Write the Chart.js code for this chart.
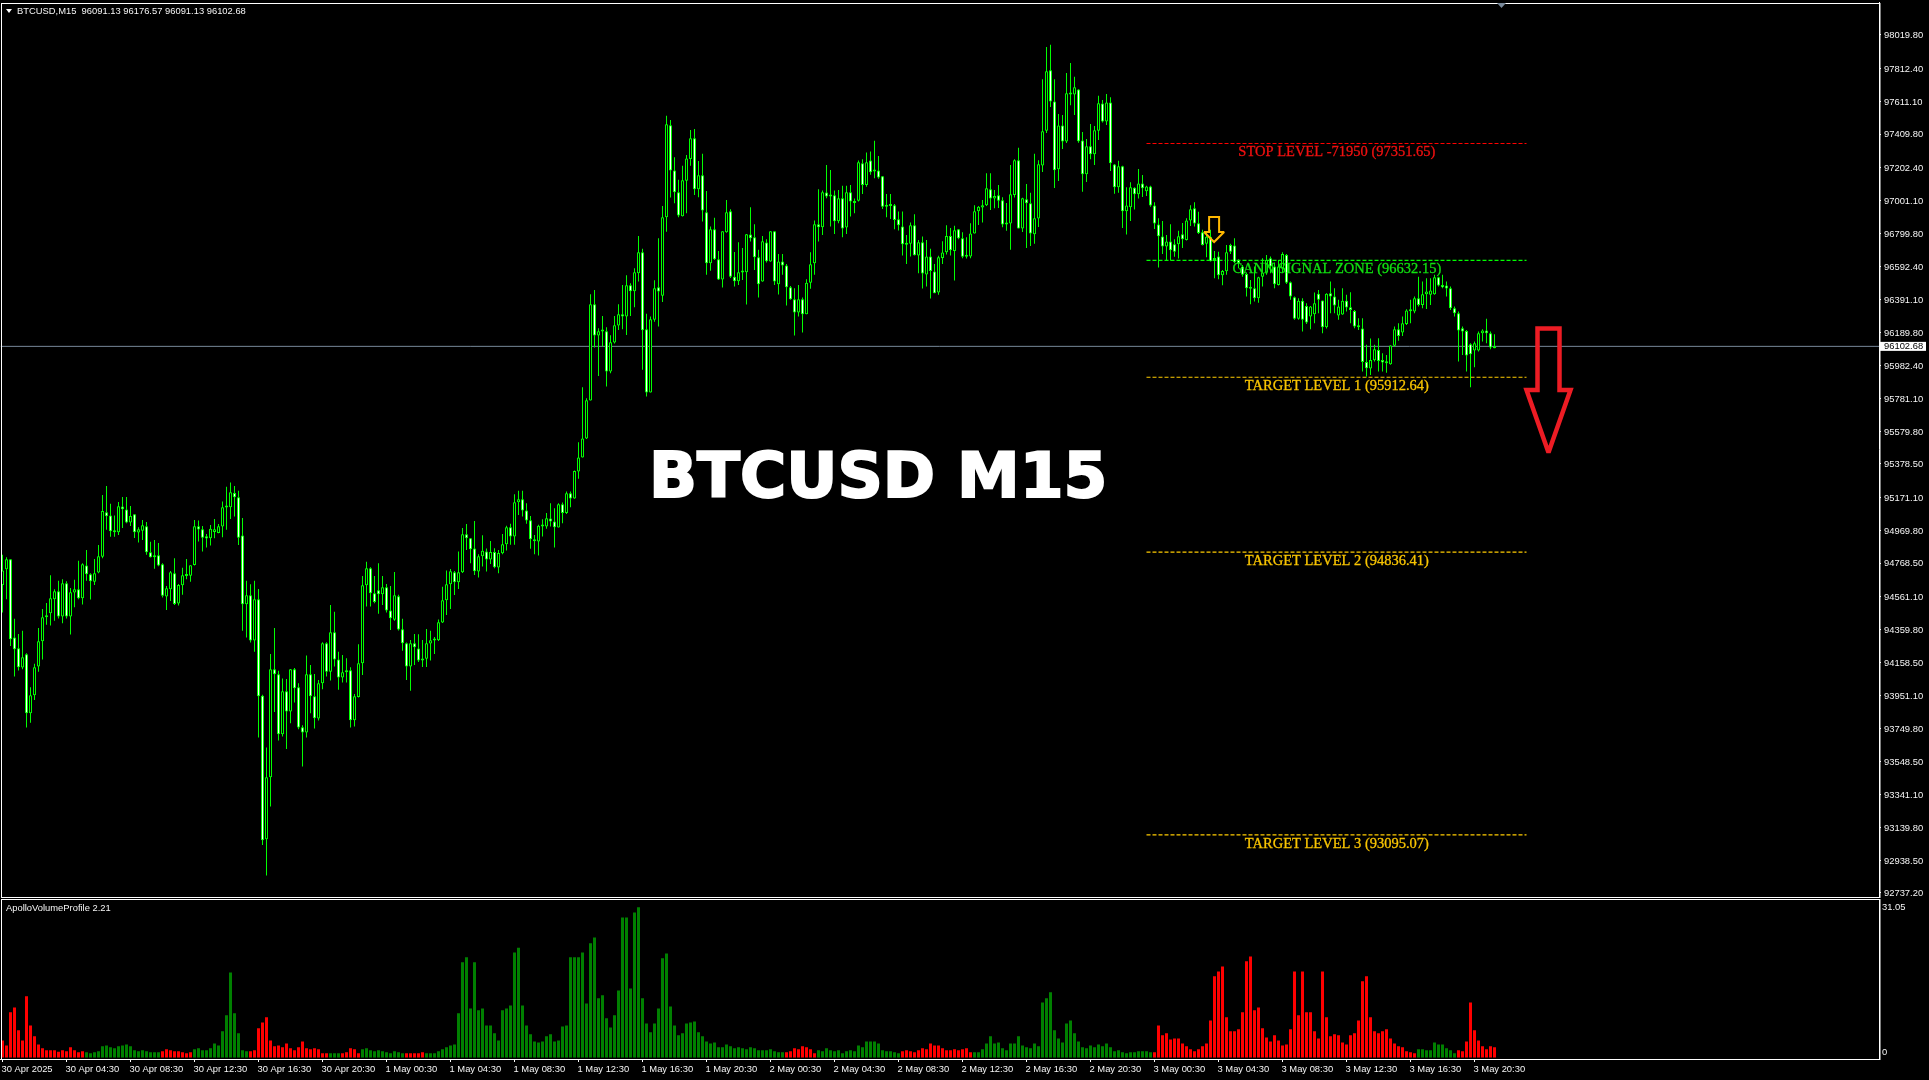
<!DOCTYPE html>
<html>
<head>
<meta charset="utf-8">
<title>BTCUSD M15</title>
<style>
  html, body { margin: 0; padding: 0; background: #000; overflow: hidden; }
  canvas { position: absolute; left: 0; top: 0; }
</style>
<script src="https://cdn.jsdelivr.net/npm/chart.js@4/dist/chart.umd.js"></script>
</head>
<body>
<canvas id="priceChart" width="1929" height="1080"></canvas>
<canvas id="volumeChart" width="1929" height="1080"></canvas>
<script>
// 15 minute candles
const opens = [
94634,94730,94792,94310,94244,94125,94207,93844,93955,94131,
94287,94435,94460,94546,94595,94439,94644,94439,94587,94607,
94552,94753,94700,94654,94710,94808,95081,95061,94966,94958,
95116,95098,95018,95069,94956,94968,94995,94835,94804,94817,
94761,94562,94607,94706,94519,94632,94689,94691,94757,94995,
94977,94934,94921,94960,94954,94993,95110,95112,95200,95174,
94938,94515,94570,94291,94546,93951,93068,93450,94115,94084,
93715,93979,93854,94115,94004,93758,93725,94084,93949,93811,
94029,94275,94100,94343,94174,94064,94096,94109,93801,93944,
94152,94632,94737,94583,94601,94576,94620,94476,94419,94564,
94361,94275,94131,94275,94242,94176,94180,94273,94291,94293,
94402,94540,94638,94712,94650,94712,94946,94921,94858,94716,
94810,94839,94790,94837,94741,94829,94885,94989,94932,95143,
95162,95092,95032,94915,94901,94993,94993,95043,95024,94987,
95131,95076,95199,95166,95332,95418,95535,95769,96362,96169,
96194,96196,95948,96126,96231,96301,96286,96479,96442,96553,
96682,96208,95818,96266,96467,96415,96898,97464,97185,97052,
96904,97123,97257,97384,97070,97156,96928,96615,96824,96639,
96514,96805,96935,96532,96504,96557,96559,96791,96775,96651,
96502,96742,96625,96812,96485,96625,96600,96467,96393,96311,
96393,96301,96495,96615,96855,96836,97050,97033,97033,96873,
97015,96834,97052,96986,97000,97230,97097,97247,97185,97185,
97150,96972,96967,96972,96885,96840,96738,96734,96848,96662,
96744,96545,96656,96563,96434,96647,96682,96783,96690,96824,
96768,96654,96656,96797,96935,96957,96972,97070,97013,97033,
97002,96863,96859,97035,97249,96828,97009,96984,96793,96890,
97216,97431,97803,97610,97193,97462,97364,97653,97653,97684,
97370,97162,97335,97286,97431,97598,97487,97604,97222,97082,
97212,96935,96959,97080,97039,97105,97058,97087,96970,96853,
96779,96717,96748,96732,96732,96793,96758,96877,96953,96861,
96805,96734,96777,96639,96656,96541,96565,96727,96723,96635,
96594,96549,96461,96461,96399,96532,96557,96645,96594,96481,
96584,96666,96498,96405,96272,96383,96352,96286,96301,96426,
96385,96221,96430,96409,96292,96299,96383,96344,96321,96225,
96212,96007,95966,96017,96081,96019,96009,95993,96106,96208,
96188,96241,96319,96317,96399,96358,96424,96420,96424,96528,
96481,96477,96461,96337,96307,96214,96198,96116,96077,96077,
96184,96200,96184,96091.13];

const closes = [
94722,94792,94299,94238,94127,94189,93844,93955,94127,94287,
94435,94447,94552,94595,94439,94644,94439,94589,94607,94552,
94761,94700,94657,94706,94810,95089,95057,94964,94958,95118,
95100,95018,95059,94958,94977,95001,94835,94804,94817,94753,
94568,94613,94712,94517,94634,94693,94695,94755,94995,94975,
94925,94919,94979,94977,94995,95112,95114,95204,95174,94925,
94515,94570,94291,94546,93949,93062,93450,94115,94084,93715,
93979,93854,94115,93998,93756,93725,94084,93949,93813,94029,
94275,94100,94343,94174,94064,94096,94109,93801,93949,94152,
94632,94737,94583,94529,94576,94620,94476,94429,94570,94359,
94275,94131,94275,94250,94168,94168,94275,94293,94295,94404,
94540,94638,94718,94650,94712,94946,94921,94853,94718,94810,
94845,94790,94837,94743,94831,94885,94989,94932,95143,95162,
95092,95030,94915,94903,94998,95002,95045,95024,94989,95131,
95076,95199,95166,95336,95418,95535,95771,96362,96169,96196,
96196,95948,96128,96233,96301,96286,96479,96442,96559,96682,
96202,95818,96270,96461,96440,96898,97470,97185,97052,96908,
97125,97259,97384,97070,97156,96939,96615,96824,96639,96514,
96812,96928,96532,96504,96559,96559,96793,96768,96651,96485,
96750,96627,96812,96502,96625,96600,96467,96393,96311,96393,
96301,96495,96608,96855,96836,97052,97025,97025,96873,97015,
96828,97052,96994,96998,97236,97097,97236,97175,97179,97142,
96963,96963,96974,96881,96848,96731,96729,96848,96664,96744,
96551,96656,96567,96430,96651,96680,96783,96695,96818,96768,
96654,96658,96797,96935,96963,96972,97076,97013,97029,97000,
96853,96853,97039,97249,96828,97015,96984,96797,96892,97224,
97427,97797,97610,97187,97462,97364,97661,97661,97698,97366,
97162,97335,97286,97433,97600,97487,97604,97230,97082,97212,
96935,96970,97082,97039,97105,97076,97087,96970,96859,96781,
96717,96748,96695,96686,96781,96762,96877,96947,96859,96801,
96727,96777,96627,96635,96541,96567,96682,96686,96621,96615,
96543,96461,96457,96399,96528,96557,96635,96594,96485,96594,
96672,96495,96409,96272,96383,96266,96249,96348,96368,96389,
96221,96426,96409,96354,96348,96383,96342,96327,96225,96221,
96007,95968,96019,96085,96013,96003,95999,96108,96208,96167,
96245,96323,96323,96399,96358,96424,96440,96446,96528,96477,
96467,96459,96337,96307,96200,96194,96046,96054,96122,96184,
96200,96184,96095,96102.68];

const highs = [
94819,94804,94792,94425,94332,94351,94213,94004,94148,94369,
94486,94523,94693,94607,94659,94669,94657,94615,94665,94782,
94767,94849,94706,94794,94880,95188,95243,95133,95061,95145,
95176,95176,95120,95069,94989,95034,95022,94899,94911,94892,
94767,94628,94720,94798,94640,94739,94794,94755,95034,95030,
94997,94948,95003,95040,95009,95147,95239,95264,95243,95213,
95046,94659,94638,94659,94609,93957,93633,94209,94369,94105,
94057,94055,94117,94123,94029,93770,94199,94141,94086,94049,
94281,94281,94511,94468,94222,94203,94182,94127,93963,94269,
94689,94776,94743,94689,94767,94689,94640,94628,94714,94574,
94425,94279,94295,94332,94330,94295,94363,94351,94314,94421,
94622,94722,94732,94720,94839,94985,95009,94923,95028,94823,
94940,94858,94905,94860,94849,94948,94998,95010,95192,95213,
95213,95137,95059,94942,95004,95039,95076,95137,95106,95137,
95141,95209,95209,95338,95513,95851,95783,96424,96450,96214,
96290,96221,96171,96290,96362,96481,96541,96491,96584,96783,
96703,96303,96286,96510,96768,96967,97522,97497,97267,97128,
97214,97281,97435,97441,97244,97288,97060,96840,96894,96690,
96812,97004,96947,96684,96744,96709,96795,96959,96855,96697,
96783,96762,96812,96812,96672,96672,96610,96475,96461,96481,
96403,96516,96682,96877,97070,97062,97220,97189,97062,97066,
97091,97091,97097,97013,97247,97255,97296,97302,97368,97275,
97152,97041,97041,96980,96933,96933,96789,96865,96916,96758,
96779,96758,96703,96610,96660,96750,96848,96832,96846,96824,
96805,96775,96861,96972,96967,97004,97169,97169,97066,97097,
97021,96986,97220,97255,97325,97017,97103,97048,97288,97249,
97747,97946,97959,97747,97534,97528,97786,97848,97762,97686,
97423,97380,97472,97460,97645,97620,97657,97636,97226,97245,
97214,97082,97113,97082,97195,97158,97091,97091,96990,96892,
96875,96789,96855,96762,96814,96863,96892,96972,96990,96931,
96820,96799,96820,96690,96686,96573,96727,96734,96768,96639,
96604,96557,96512,96594,96532,96645,96666,96656,96619,96635,
96682,96672,96502,96409,96399,96399,96368,96352,96434,96450,
96385,96430,96502,96461,96389,96461,96420,96436,96327,96276,
96276,96112,96151,96112,96153,96060,96050,96110,96225,96245,
96286,96331,96389,96409,96532,96502,96522,96522,96543,96532,
96543,96502,96471,96348,96317,96225,96204,96122,96132,96194,
96208,96272,96194,96176.57];

const lows = [
94464,94546,94258,94070,94107,94115,93756,93786,93926,94100,
94174,94388,94384,94414,94427,94398,94427,94328,94496,94546,
94513,94659,94544,94634,94706,94798,94973,94931,94931,94942,
94985,95014,94997,94923,94895,94911,94819,94802,94734,94749,
94556,94480,94535,94511,94507,94574,94669,94654,94753,94901,
94839,94864,94876,94921,94952,94927,94973,95040,95055,94880,
94351,94310,94279,94222,93694,93033,92845,93269,93852,93676,
93700,93624,93782,93910,93745,93516,93694,93844,93750,93799,
93992,94070,94045,94131,93988,94033,94033,93756,93762,93940,
94080,94501,94501,94521,94457,94511,94464,94357,94414,94353,
94228,94049,93983,94141,94160,94129,94129,94168,94209,94289,
94400,94449,94486,94572,94609,94708,94849,94767,94695,94679,
94747,94716,94763,94737,94706,94823,94846,94881,94881,95065,
95055,95010,94856,94823,94815,94932,94979,94993,94864,94987,
95014,95071,95112,95164,95287,95418,95533,95769,96095,95921,
96102,95855,95937,96120,96204,96208,96173,96290,96344,96502,
95958,95794,95818,96255,96225,96376,96809,97019,96984,96898,
96902,96922,97214,97035,97021,96871,96543,96569,96635,96512,
96465,96803,96524,96471,96481,96512,96360,96748,96573,96403,
96500,96619,96623,96481,96422,96543,96354,96389,96169,96286,
96188,96301,96457,96543,96748,96789,97015,96840,96795,96861,
96775,96795,96902,96922,96994,97041,97086,97160,97138,97134,
96949,96898,96887,96824,96816,96662,96610,96656,96662,96553,
96459,96471,96397,96430,96420,96610,96668,96662,96508,96762,
96645,96643,96645,96797,96850,96865,96967,96943,96953,96955,
96836,96814,96697,97019,96828,96807,96709,96721,96734,96838,
97177,97417,97577,97078,97121,97318,97355,97587,97528,97357,
97054,97115,97255,97220,97374,97481,97466,97183,97043,97048,
96832,96791,96875,96945,97013,97023,97029,96963,96826,96588,
96672,96633,96631,96654,96643,96709,96754,96844,96840,96795,
96723,96651,96625,96522,96516,96479,96543,96672,96615,96584,
96532,96409,96362,96379,96372,96471,96543,96553,96461,96477,
96553,96487,96389,96266,96266,96194,96241,96208,96245,96307,
96184,96212,96307,96307,96266,96297,96317,96245,96214,96204,
95948,95917,95927,96009,95948,95948,95941,95989,96102,96138,
96167,96235,96245,96307,96348,96337,96333,96358,96420,96471,
96461,96409,96327,96286,96009,96050,95948,95851,95974,96071,
96132,96122,96085,96091.13];

// ApolloVolumeProfile histogram, one value per candle
const volumes = [
3.6,2.6,9.4,10.4,5.7,3.6,12.7,6.7,4.5,2.8,2.0,1.6,1.6,1.6,1.3,1.6,1.4,2.2,1.6,1.2,1.4,
1.2,1.0,1.2,1.4,2.4,2.6,2.2,2.0,2.4,2.6,2.8,2.4,1.6,1.4,1.6,1.4,1.2,1.2,1.2,
1.4,1.8,1.6,1.4,1.4,1.2,1.0,1.2,
1.8,2.0,1.6,1.6,2.0,3.0,2.6,5.5,8.8,17.6,9.2,5.1,1.6,1.4,
1.4,1.6,6.1,7.3,8.4,3.6,2.4,2.6,2.2,3.0,2.0,1.6,2.2,3.4,2.0,1.8,2.0,1.8,1.0,1.0,
1.0,1.0,1.0,
1.0,1.2,2.0,1.8,1.0,
1.8,2.0,1.6,1.4,1.6,1.4,1.2,1.0,1.4,1.2,1.0,
1.0,1.0,1.0,1.0,1.2,
1.0,1.0,1.0,1.4,1.8,2.2,2.6,2.8,9.2,19.7,20.7,10.2,19.7,9.8,10.2,6.7,6.7,5.1,3.6,9.8,10.2,10.8,21.7,22.7,
10.8,6.7,4.9,3.4,3.2,3.4,4.5,4.9,3.4,3.6,6.5,6.7,20.7,20.7,20.7,21.7,11.2,23.6,24.8,12.3,12.9,8.2,6.3,8.8,13.9,
28.9,28.9,14.3,29.9,31.0,12.3,7.1,5.3,7.1,10.2,20.5,21.5,10.6,6.7,4.7,5.1,7.1,7.3,7.5,5.3,4.5,3.4,3.0,3.2,2.2,
2.2,2.8,2.4,2.0,2.2,2.0,1.8,2.2,2.0,1.6,1.6,1.6,1.8,1.4,1.2,1.2,
1.2,1.4,2.0,1.8,2.4,2.2,1.8,1.0,
1.6,1.4,2.0,1.6,1.4,1.6,1.0,1.4,1.6,1.4,2.6,2.2,3.4,3.4,3.4,3.0,1.6,1.4,1.4,1.2,1.0,
1.4,1.6,1.4,1.2,1.6,2.0,1.8,3.0,2.6,2.6,2.0,1.6,1.6,1.8,1.6,1.8,2.0,1.2,
1.2,1.2,1.8,3.0,4.5,3.0,3.2,2.0,1.6,3.0,3.0,4.5,2.6,2.2,2.0,3.0,2.4,11.4,12.3,13.5,5.7,4.0,3.2,7.1,7.7,
5.1,3.4,2.2,2.0,2.6,2.2,2.8,2.4,3.0,2.2,1.4,1.6,1.2,1.0,1.2,1.2,1.4,1.4,1.4,1.2,
1.2,6.7,4.7,5.1,3.8,4.0,4.0,3.0,2.4,1.8,1.4,1.8,2.4,3.0,7.7,16.8,17.8,18.8,8.4,5.5,5.5,5.9,9.4,19.9,20.9,
9.8,10.4,6.1,4.2,3.4,4.7,3.6,2.6,2.8,5.9,17.8,8.8,17.8,9.4,9.4,5.5,4.0,17.8,8.4,4.5,4.9,4.7,3.2,2.8,4.7,
5.1,7.7,15.8,16.8,8.4,5.5,5.1,5.5,5.9,4.0,3.0,2.4,2.2,1.4,1.2,1.0,
1.8,1.8,1.6,1.6,3.2,2.8,2.8,2.0,1.6,1.0,
1.6,1.4,3.4,11.4,5.7,3.6,2.4,1.8,2.4,2.2];
// candle index ranges where the histogram is red, green everywhere else
const redRanges = [[0,20],[40,47],[62,81],[85,89],[101,105],[196,203],[225,242],[288,353],[364,373]];

const priceTicks = [98019.80,97812.40,97611.10,97409.80,97202.40,97001.10,96799.80,96592.40,96391.10,
  96189.80,95982.40,95781.10,95579.80,95378.50,95171.10,94969.80,94768.50,94561.10,94359.80,94158.50,
  93951.10,93749.80,93548.50,93341.10,93139.80,92938.50,92737.20];
const volumeTicks = [31.05, 0];
// one label every 16 candles
const timeLabels = ['30 Apr 2025','30 Apr 04:30','30 Apr 08:30','30 Apr 12:30','30 Apr 16:30','30 Apr 20:30',
  '1 May 00:30','1 May 04:30','1 May 08:30','1 May 12:30','1 May 16:30','1 May 20:30',
  '2 May 00:30','2 May 04:30','2 May 08:30','2 May 12:30','2 May 16:30','2 May 20:30',
  '3 May 00:30','3 May 04:30','3 May 08:30','3 May 12:30','3 May 16:30','3 May 20:30'];

const levelPrices = [97351.65, 96632.15, 95912.64, 94836.41, 93095.07];
const levelLabels = ['STOP LEVEL -71950 (97351.65)','GANN SIGNAL ZONE (96632.15)','TARGET LEVEL 1 (95912.64)',
  'TARGET LEVEL 2 (94836.41)','TARGET LEVEL 3 (93095.07)'];
const levelRange = [286, 381];   // candle indexes where the dashed levels start and stop

const XMIN = -0.5, XMAX = 469.125;
const RED = '#ff0000', GREEN = '#00ff00', GOLD = '#ffcc00';
const levelColors = [RED, GREEN, GOLD, GOLD, GOLD];
const levelTextColors = ['#f01010', '#10e010', '#f8c400', '#f8c400', '#f8c400'];
const smallFont = { family: '"Liberation Sans"', size: 9.4 };
const lastPrice = closes[closes.length - 1];

function isRed(i) {
  return redRanges.some(function (r) { return i >= r[0] && i <= r[1]; });
}

function drawShape(ctx, cx, top, points, color, width) {
  ctx.beginPath();
  points.forEach(function (p, i) {
    if (i === 0) ctx.moveTo(cx + p[0], top + p[1]);
    else ctx.lineTo(cx + p[0], top + p[1]);
  });
  ctx.closePath();
  ctx.lineJoin = 'miter';
  ctx.miterLimit = 2.5;
  ctx.lineWidth = width;
  ctx.strokeStyle = color;
  ctx.stroke();
}

// keeps the tick labels from pushing the plot area in
function noScalePadding(scale) {
  scale.paddingTop = 0;
  scale.paddingBottom = 0;
  scale.paddingLeft = 0;
  scale.paddingRight = 0;
}

// white frame round a panel
const framePlugin = {
  id: 'frame',
  afterDraw: function (chart) {
    const a = chart.chartArea, ctx = chart.ctx;
    ctx.save();
    ctx.strokeStyle = '#ffffff';
    ctx.lineWidth = 1;
    ctx.strokeRect(Math.round(a.left) + 0.5, Math.round(a.top) + 0.5,
      Math.round(a.right - a.left) - 0.5, Math.round(a.bottom - a.top));
    ctx.restore();
  }
};

// texts and arrows on top of the candles
const overlayPlugin = {
  id: 'overlay',
  afterDatasetsDraw: function (chart) {
    const ctx = chart.ctx, x = chart.scales.x, y = chart.scales.y;
    ctx.save();

    ctx.textBaseline = 'middle';
    ctx.textAlign = 'center';
    ctx.font = '14.5px "Liberation Serif"';
    ctx.lineWidth = 0.3;
    levelPrices.forEach(function (p, i) {
      ctx.fillStyle = levelTextColors[i];
      ctx.strokeStyle = levelTextColors[i];
      ctx.fillText(levelLabels[i], x.getPixelForValue(333.6), y.getPixelForValue(p) + 9);
      ctx.strokeText(levelLabels[i], x.getPixelForValue(333.6), y.getPixelForValue(p) + 9);
    });

    // arrows, anchored at candle index and price
    drawShape(ctx, x.getPixelForValue(302.9), y.getPixelForValue(96899),
      [[-5,0],[5,0],[5,15],[10,15],[0,25],[-10,15],[-5,15]], '#ffb800', 2);
    drawShape(ctx, x.getPixelForValue(386.5), y.getPixelForValue(96212),
      [[-11,0],[11,0],[11,61.5],[22,61.5],[0,124],[-22,61.5],[-11,61.5]], '#ed1c24', 4.5);

    ctx.fillStyle = '#ffffff';
    ctx.textAlign = 'left';
    ctx.textBaseline = 'alphabetic';
    ctx.font = 'bold 63px "DejaVu Sans"';
    ctx.lineWidth = 2;
    ctx.strokeStyle = '#ffffff';
    ctx.fillText('BTCUSD M15', 649, 497);
    ctx.strokeText('BTCUSD M15', 649, 497);

    ctx.restore();
  },
  afterDraw: function (chart) {
    const ctx = chart.ctx, y = chart.scales.y;
    const py = y.getPixelForValue(lastPrice);
    ctx.save();
    ctx.font = '9.4px "Liberation Sans"';
    ctx.textBaseline = 'middle';
    ctx.textAlign = 'left';

    ctx.fillStyle = '#ffffff';
    ctx.fillRect(1880, py - 4.5, 46, 9);
    ctx.fillStyle = '#000000';
    ctx.fillText(lastPrice.toFixed(2), 1884, py + 0.5);

    ctx.fillStyle = '#f5f5f5';
    ctx.fillText('BTCUSD,M15  96091.13 96176.57 96091.13 ' + lastPrice.toFixed(2), 17, 11);

    ctx.fillStyle = '#ffffff';
    ctx.beginPath();
    ctx.moveTo(6, 9); ctx.lineTo(12, 9); ctx.lineTo(9, 13);
    ctx.closePath();
    ctx.fill();

    ctx.fillStyle = '#778899';
    ctx.beginPath();
    ctx.moveTo(1497, 3); ctx.lineTo(1506, 3); ctx.lineTo(1501.5, 8);
    ctx.closePath();
    ctx.fill();
    ctx.restore();
  }
};

const volumeLabelPlugin = {
  id: 'volumeLabel',
  afterDraw: function (chart) {
    const ctx = chart.ctx;
    ctx.save();
    ctx.font = '9.4px "Liberation Sans"';
    ctx.textBaseline = 'middle';
    ctx.fillStyle = '#f5f5f5';
    ctx.fillText('ApolloVolumeProfile 2.21', 6, 908);
    ctx.restore();
  }
};

const levelDatasets = levelPrices.map(function (p, i) {
  return {
    type: 'line',
    order: 3,
    data: levelRange.map(function (c) { return { x: c, y: p }; }),
    borderColor: levelColors[i],
    borderWidth: 1.2,
    borderDash: [4, 2],
    pointRadius: 0,
    tension: 0
  };
});

new Chart(document.getElementById('priceChart').getContext('2d'), {
  type: 'bar',
  data: {
    datasets: [
      {
        // candle bodies: black when up, white when down
        order: 1,
        grouped: false,
        data: opens.map(function (o, i) { return { x: i, y: [o, closes[i]] }; }),
        backgroundColor: opens.map(function (o, i) { return closes[i] < o ? '#ffffff' : '#000000'; }),
        borderColor: GREEN,
        borderWidth: 1,
        borderSkipped: false,
        inflateAmount: 0,
        barThickness: 3,
        minBarLength: 2
      },
      {
        // wicks
        order: 2,
        grouped: false,
        data: highs.map(function (h, i) { return { x: i, y: [lows[i], h] }; }),
        backgroundColor: GREEN,
        borderWidth: 0,
        inflateAmount: 0,
        barThickness: 1
      }
    ].concat(levelDatasets, [{
      type: 'line',
      order: 4,
      data: [{ x: XMIN, y: lastPrice }, { x: XMAX, y: lastPrice }],
      borderColor: '#778899',
      borderWidth: 1,
      pointRadius: 0
    }])
  },
  options: {
    responsive: false,
    animation: false,
    devicePixelRatio: 1,
    layout: { padding: { left: 0.5, top: 2.5, right: 0, bottom: 184 } },
    plugins: { legend: { display: false }, tooltip: { enabled: false } },
    scales: {
      x: { type: 'linear', display: false, offset: false, min: XMIN, max: XMAX },
      y: {
        position: 'right',
        min: 92718.6,
        max: 98219.9,
        afterFit: function (scale) { scale.width = 50; noScalePadding(scale); },
        afterBuildTicks: function (scale) {
          scale.ticks = priceTicks.map(function (v) { return { value: v }; });
        },
        grid: { drawOnChartArea: false, color: '#ffffff', tickLength: 2 },
        border: { color: '#ffffff' },
        ticks: {
          color: '#f5f5f5',
          font: smallFont,
          padding: 3,
          labelOffset: 0.8,
          autoSkip: false,
          callback: function (v) { return v.toFixed(2); }
        }
      }
    }
  },
  plugins: [framePlugin, overlayPlugin]
});

new Chart(document.getElementById('volumeChart').getContext('2d'), {
  type: 'bar',
  data: {
    datasets: [{
      data: volumes.map(function (v, i) { return { x: i, y: v }; }),
      backgroundColor: volumes.map(function (v, i) { return isRed(i) ? '#ff0000' : '#008000'; }),
      borderWidth: 0,
      inflateAmount: 0,
      barThickness: 3
    }]
  },
  options: {
    responsive: false,
    animation: false,
    devicePixelRatio: 1,
    layout: { padding: { left: 0.5, top: 899, right: 0, bottom: 0 } },
    plugins: { legend: { display: false }, tooltip: { enabled: false } },
    scales: {
      x: {
        type: 'linear',
        offset: false,
        min: XMIN,
        max: XMAX,
        afterFit: function (scale) { scale.height = 21; noScalePadding(scale); },
        afterBuildTicks: function (scale) {
          scale.ticks = timeLabels.map(function (t, i) { return { value: i * 16 }; });
        },
        grid: { drawOnChartArea: false, offset: false, color: '#ffffff', tickLength: 3 },
        border: { color: '#ffffff' },
        ticks: {
          color: '#f5f5f5',
          font: smallFont,
          align: 'start',
          padding: 2,
          labelOffset: -1,
          autoSkip: false,
          maxRotation: 0,
          callback: function (v, i) { return timeLabels[i]; }
        }
      },
      y: {
        position: 'right',
        min: -0.2,
        max: 32.7,
        afterFit: function (scale) { scale.width = 50; noScalePadding(scale); },
        afterBuildTicks: function (scale) {
          scale.ticks = volumeTicks.map(function (v) { return { value: v }; });
        },
        grid: { drawOnChartArea: false, drawTicks: false },
        border: { color: '#ffffff' },
        ticks: {
          color: '#f5f5f5',
          font: { family: '"Liberation Sans"', size: 9.4, lineHeight: 1.3 },
          padding: 3,
          autoSkip: false,
          // the zero sits a little above the baseline in the original
          callback: function (v) { return v === 0 ? ['0', ''] : v.toFixed(2); }
        }
      }
    }
  },
  plugins: [framePlugin, volumeLabelPlugin]
});
</script>
</body>
</html>
